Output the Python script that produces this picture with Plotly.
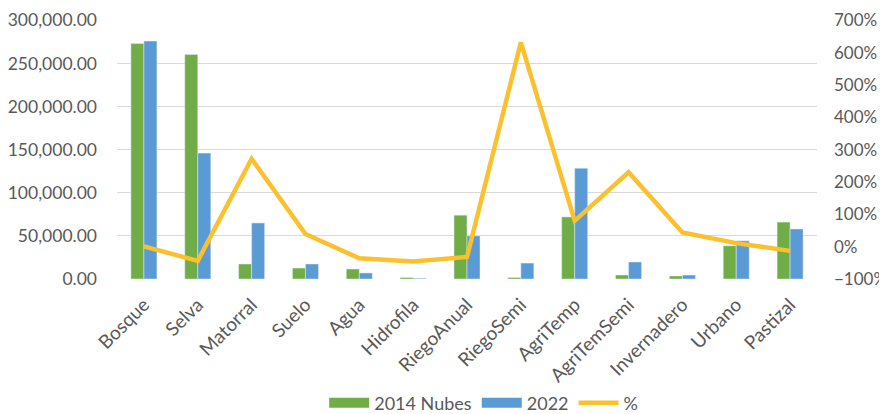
import plotly.graph_objects as go

categories = [
    "Bosque", "Selva", "Matorral", "Suelo", "Agua", "Hidrofila", "RiegoAnual",
    "RiegoSemi", "AgriTemp", "AgriTemSemi", "Invernadero", "Urbano", "Pastizal",
]
area_2014 = [273000, 260500, 17400, 12700, 11600, 1700, 74000, 1700, 72000, 4600, 3500, 38500, 66000]
area_2022 = [276000, 146000, 65000, 17400, 7000, 900, 50000, 18500, 128500, 19700, 4600, 44300, 58000]
pct_change = [1, -44, 272, 39, -36, -46, -32, 632, 80, 230, 44, 11, -13]

GREEN = "#70ad47"
BLUE = "#5b9bd5"
GOLD = "#fbc02d"
TEXT = "#595959"
FONT = "Lato, sans-serif"

fig = go.Figure()
# bars (legend entries drawn as wide swatches below, like the Excel original)
fig.add_trace(go.Bar(x=categories, y=area_2014, name="2014 Nubes", marker_color=GREEN,
                     legendgroup="g14", showlegend=False))
fig.add_trace(go.Bar(x=categories, y=area_2022, name="2022", marker_color=BLUE,
                     legendgroup="g22", showlegend=False))
fig.add_trace(
    go.Scatter(
        x=categories,
        y=pct_change,
        name="%",
        mode="lines",
        yaxis="y2",
        line={"color": GOLD, "width": 4.5},
        showlegend=False,
    )
)

# legend-only entries
for name, color, width, group in [
    ("2014 Nubes", GREEN, 11, "g14"),
    ("2022", BLUE, 11, "g22"),
    ("%", GOLD, 4.5, None),
]:
    fig.add_trace(go.Scatter(x=[None], y=[None], mode="lines", name=name,
                             line={"color": color, "width": width}, legendgroup=group))

# a hair of headroom so the 300,000 gridline is not clipped at the top edge
left_range = [0, 300400]
right_range = [-100, -100 + 800 * left_range[1] / 300000]

# the page body adds an 8px margin, so the figure is 8px smaller each way
fig.update_layout(
    width=879,
    height=406,
    margin={"l": 109, "r": 70, "t": 12, "b": 135, "autoexpand": False},
    paper_bgcolor="white",
    plot_bgcolor="white",
    font={"family": FONT, "color": TEXT, "size": 18},
    barmode="group",
    bargap=0.517,
    bargroupgap=0,
    xaxis={
        "tickangle": -45,
        "tickfont": {"size": 19},
        "showgrid": False,
        "showline": False,
        "ticks": "",
        "automargin": False,
        "ticklabelstandoff": 10,
    },
    yaxis={
        "range": left_range,
        "tick0": 0,
        "dtick": 50000,
        "tickformat": ",.2f",
        "tickfont": {"size": 17.5},
        "gridcolor": "#d9d9d9",
        "gridwidth": 1.3,
        "zeroline": False,
        "ticks": "",
        "automargin": False,
        "ticklabelstandoff": 19,
        "ticklabeloverflow": "allow",
    },
    yaxis2={
        "range": right_range,
        "tick0": 0,
        "dtick": 100,
        "ticksuffix": "%",
        "tickfont": {"size": 17},
        "overlaying": "y",
        "side": "right",
        "showgrid": False,
        "zeroline": False,
        "ticks": "",
        "automargin": False,
        "ticklabelstandoff": 16,
        "ticklabeloverflow": "allow",
    },
    legend={
        "orientation": "h",
        "x": 0.296,
        "xanchor": "left",
        "y": -0.479,
        "yanchor": "middle",
        "font": {"size": 18},
        "itemwidth": 40,
    },
)

fig.write_html("out.html")
